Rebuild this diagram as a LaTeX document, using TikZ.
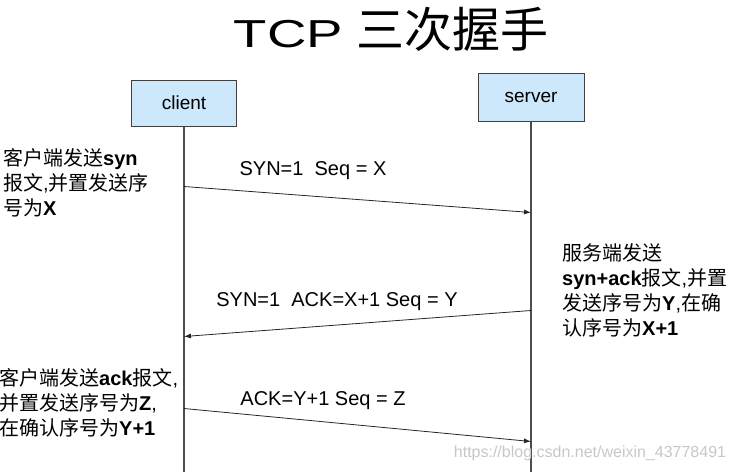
\documentclass[tikz,border=0pt]{standalone}
\usepackage{fontspec}
\setmainfont{Liberation Sans}
\newfontfamily\cjk{Noto Sans CJK SC}
\usetikzlibrary{arrows.meta,positioning}
\definecolor{boxblue}{RGB}{204,232,250}

\begin{document}
\begin{tikzpicture}[x=1pt, y=-1pt,
    actor/.style = {draw=black!75, fill=boxblue, line width=1pt, minimum width=105pt, minimum height=46pt, font=\fontsize{19}{19}\selectfont},
    life/.style = {draw=black!70, line width=1.4pt},
    msg/.style = {draw=black!85, line width=0.8pt, -{Latex[length=7pt,width=5pt]}},
    lbl/.style = {font=\fontsize{20}{20}\selectfont},
    note/.style = {anchor=base west, align=left, inner sep=0pt, font=\fontsize{20}{25}\selectfont}]

  \useasboundingbox (0,0) rectangle (734,472);

  % title
  \node (title) at (391,29) {\fontsize{39}{39}\selectfont\scalebox{1.4}[1]{TCP}\hspace{13pt}{\cjk\fontsize{48}{48}\selectfont 三次握手}};

  % the two ends and their lifelines
  \coordinate (bottom) at (0,472);
  \node[actor] (client) at (184,103) {client};
  \node[actor, minimum width=106pt, minimum height=48pt] (server) at (531,97) {server};
  \draw[life] (client.south) -- (client.south |- bottom);
  \draw[life] (server.south) -- (server.south |- bottom);

  % points on the lifelines
  \coordinate (c1) at ([yshift=-60pt]client.south);
  \coordinate (s1) at ([yshift=-91pt]server.south);
  \coordinate (s2) at ([yshift=-189pt]server.south);
  \coordinate (c2) at ([yshift=-210pt]client.south);
  \coordinate (c3) at ([yshift=-282pt]client.south);
  \coordinate (s3) at ([yshift=-320pt]server.south);

  \draw[msg] (c1) -- (s1);
  \draw[msg] (s2) -- (c2);
  \draw[msg] (c3) -- (s3);

  \node[lbl] (m1) at (313,171) {SYN=1\ \ Seq = X};
  \node[lbl] (m2) at (337,302) {SYN=1\ \ ACK=X+1 Seq = Y};
  \node[lbl] (m3) at (323,401) {ACK=Y+1 Seq = Z};

  % notes beside the lifelines (anchored at the last line)
  \node[note] (n1) at (3,215) {{\cjk 客户端发送}\textbf{syn}\\{\cjk 报文},{\cjk 并置发送序}\\{\cjk 号为}\textbf{X}};
  \node[note] (n2) at (562,335) {{\cjk 服务端发送}\\\textbf{syn+ack}{\cjk 报文},{\cjk 并置}\\{\cjk 发送序号为}\textbf{Y},{\cjk 在确}\\{\cjk 认序号为}\textbf{X+1}};
  \node[note] (n3) at (-1,435) {{\cjk 客户端发送}\textbf{ack}{\cjk 报文},\\{\cjk 并置发送序号为}\textbf{Z},\\{\cjk 在确认序号为}\textbf{Y+1}};

  \node[font=\fontsize{16}{16}\selectfont, text=black!22] (mark) at (590,453) {https://blog.csdn.net/weixin\_43778491};
\end{tikzpicture}
\end{document}
